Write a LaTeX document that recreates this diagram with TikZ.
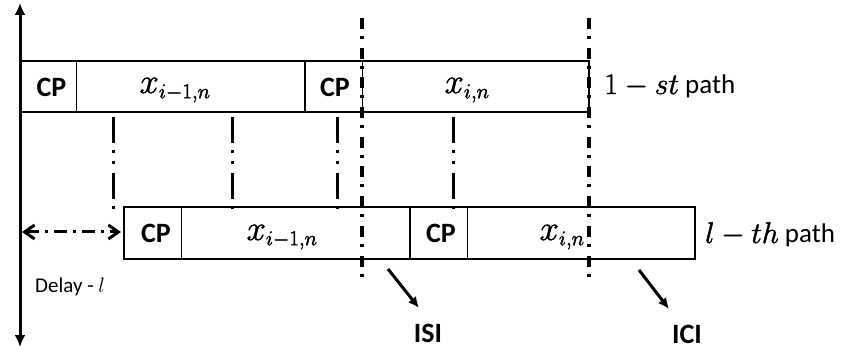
\RequirePackage{fix-cm}
\documentclass[tikz,border=0pt]{standalone}
\usepackage{fontspec}
\setmainfont{Carlito}
\usetikzlibrary{arrows.meta}
\DeclareMathSizes{35}{35}{21}{15}
\DeclareMathSizes{30}{30}{21}{15}
\DeclareMathSizes{21}{21}{15}{11}
\newcommand{\heavy}[1]{\special{pdf:literal direct 2 Tr 0.45 w}#1\special{pdf:literal direct 0 Tr}}
\newcommand{\pathword}{{\fontsize{27}{31}\selectfont\ path}}
\begin{document}
\begin{tikzpicture}[x=1pt,y=-1pt,
  box/.style={line width=1.4pt},
  cpdiv/.style={line width=0.9pt},
  longdd/.style={line width=3.5pt, dash pattern=on 11pt off 7pt on 3pt off 8.7pt},
  shortdd/.style={line width=3pt, dash pattern=on 26pt off 7.5pt on 3pt off 8pt on 3pt off 8.5pt},
  dbl/.style={line width=3pt, dash pattern=on 13pt off 6pt on 3pt off 6pt},
  lbl/.style={inner sep=0pt, anchor=base, font=\fontsize{35}{40}\selectfont},
  blbl/.style={inner sep=0pt, anchor=base, font=\fontsize{28}{32}\selectfont\bfseries},
  plbl/.style={inner sep=0pt, anchor=base west, font=\fontsize{30}{34}\selectfont},
  axis/.style={line width=3pt, {Latex[length=12pt,width=11pt]}-{Latex[length=12pt,width=11pt]}},
  pointer/.style={line width=3pt, -{Latex[length=11pt,width=10pt]}},
  barbs/.style={{Straight Barb[length=10pt,width=14pt]}-{Straight Barb[length=10pt,width=14pt]}}
]
\useasboundingbox (0,0) rectangle (842,352);

% boxes, first path
\draw[box] (20,61) rectangle (305,112);
\draw[box] (305,61) rectangle (589,112);
\draw[cpdiv] (76,61) -- (76,112);
\draw[cpdiv] (362,61) -- (362,112);
% boxes, l-th path
\draw[box] (124,207) rectangle (410,259);
\draw[box] (410,207) rectangle (695,259);
\draw[cpdiv] (181,207) -- (181,259);
\draw[cpdiv] (467,207) -- (467,259);

% long dash-dot lines
\coordinate (la1) at (362,18);
\coordinate (lb1) at (362,284);
\coordinate (la2) at (589,18);
\coordinate (lb2) at (589,284);
\draw[longdd] (la1) -- (lb1);
\draw[longdd] (la2) -- (lb2);

% short dash-dot-dot lines
\foreach \xx/\nm in {113/s1,232/s2,337/s3,453/s4}{
  \coordinate (\nm a) at (\xx,117);
  \coordinate (\nm b) at (\xx,209);
  \draw[shortdd] (\nm a) -- (\nm b);
}

% time axis
\coordinate (axT) at (20,3);
\coordinate (axB) at (20,347);
\draw[axis] (axT) -- (axB);

% delay arrow
\coordinate (dA) at (22,232);
\coordinate (dB) at (121,232);
\draw[dbl, barbs] (dA) -- (dB);

% ISI / ICI pointers
\coordinate (isiA) at (388,269);
\coordinate (isiB) at (419,308);
\coordinate (iciA) at (639,270);
\coordinate (iciB) at (669,309);
\draw[pointer] (isiA) -- (isiB);
\draw[pointer] (iciA) -- (iciB);

% labels
\node[blbl] (cp1) at (51.5,97) {CP};
\node[lbl] (x1) at (175,93) {\heavy{$x_{i-1,n}$}};
\node[blbl] (cp2) at (335,97) {CP};
\node[lbl] (x2) at (467,93) {\heavy{$x_{i,n}$}};
\node[plbl] (p1) at (604,94) {\heavy{$1-st$}\pathword};
\node[blbl] (cp3) at (156,243) {CP};
\node[lbl] (x3) at (282,240) {\heavy{$x_{i-1,n}$}};
\node[blbl] (cp4) at (441,243) {CP};
\node[lbl] (x4) at (562,240) {\heavy{$x_{i,n}$}};
\node[plbl] (p2) at (705,243) {\heavy{$l-th$}\pathword};
\node[inner sep=0pt, anchor=base west, font=\fontsize{21}{25}\selectfont] (delay) at (35,292) {Delay - $l$};
\node[blbl] (isi) at (428,342) {ISI};
\node[blbl] (ici) at (687,343) {ICI};
\end{tikzpicture}
\end{document}
